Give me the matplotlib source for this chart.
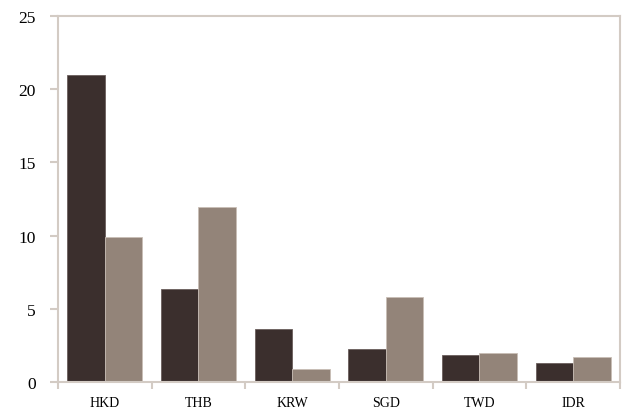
import matplotlib.pyplot as plt
import numpy as np

# Data
currencies = ['HKD', 'THB', 'KRW', 'SGD', 'TWD', 'IDR']
series_a = [21.0, 6.35, 3.6, 2.25, 1.85, 1.3]
series_b = [9.9, 11.95, 0.9, 5.8, 2.0, 1.7]
y_ticks = [0, 5, 10, 15, 20, 25]

dark = '#3b2f2d'
light = '#938479'
axis_col = '#d3cbc4'

fig = plt.figure(figsize=(6.23, 4.14), dpi=100)
ax = fig.add_axes([0.0931, 0.075, 0.9019, 0.884])

x = np.arange(len(currencies))
w = 0.4
ax.bar(x - w/2, series_a, w, color=dark, edgecolor='#6a5f5c', linewidth=0.6)
ax.bar(x + w/2, series_b, w, color=light, edgecolor='#c9beb6', linewidth=0.6)

ax.set_xlim(-0.5, len(currencies) - 0.5)
ax.set_ylim(0, 25)

ax.set_yticks(y_ticks)
ax.set_yticklabels([str(t) for t in y_ticks], fontsize=12.5, family='Liberation Serif')
ax.set_xticks(x)
ax.set_xticklabels(currencies, fontsize=10, family='Liberation Serif')
ax.set_xticks(np.arange(-0.5, len(currencies)), minor=True)

ax.tick_params(axis='x', which='major', length=0, pad=10)
ax.tick_params(axis='x', which='minor', length=5, width=1.5, color=axis_col, direction='out')
ax.tick_params(axis='y', length=6, width=1.5, color=axis_col, direction='out', pad=10)

for s in ax.spines.values():
    s.set_color(axis_col)
    s.set_linewidth(1.5)

plt.savefig('out.png', dpi=100, facecolor='white')
